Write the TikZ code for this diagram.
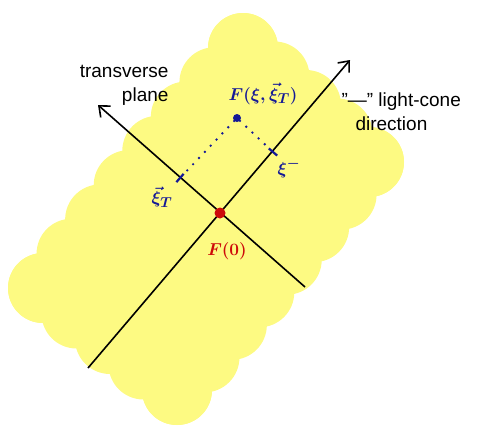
\documentclass[tikz,border=0pt]{standalone}
\usepackage{fontspec}
\setmainfont{Liberation Sans}
\usetikzlibrary{arrows.meta,positioning,calc}
\definecolor{hilite}{RGB}{253,250,130}
\definecolor{qblue}{RGB}{20,25,150}
\definecolor{fred}{RGB}{205,10,10}

\begin{document}
\begin{tikzpicture}[x=1pt, y=-1pt,
        blob/.style={fill=hilite},
        axis/.style={draw=black, line width=1.6pt, -{Straight Barb[length=9pt, width=15pt]}},
        tickmark/.style={fill=qblue, inner sep=0pt, minimum width=2.2pt, minimum height=11pt},
        dotline/.style={draw=qblue, line width=2.6pt, line cap=round, dash pattern=on 0pt off 8.5pt},
        fpoint/.style={circle, fill=qblue, inner sep=0pt, minimum size=8pt},
        reddot/.style={circle, fill=fred, inner sep=0pt, minimum size=11pt},
        note/.style={font=\fontsize{19}{24}\selectfont},
        qlabel/.style={text=qblue, inner sep=1pt, font=\fontsize{19}{22}\selectfont\boldmath}]

        \useasboundingbox (0,0) rectangle (484,429);

        \coordinate (a) at (43,288);
        \coordinate (b) at (243,48);
        \coordinate (c) at (369,162);
        \coordinate (d) at (177,390);
        \fill[blob] (a) -- (b) -- (c) -- (d) -- cycle;
        \foreach \p/\q/\n in {a/b/7, b/c/4, c/d/7, d/a/4}
            \foreach \i in {0,...,\n}
                \fill[blob] ($(\p)!\i/\n!(\q)$) circle (35pt);

        \coordinate (mstart) at (88,368);
        \coordinate (mend) at (350,60);
        \coordinate (tstart) at (305,287);
        \coordinate (tend) at (98,105);
        \draw[axis] (mstart) -- (mend);
        \draw[axis] (tstart) -- (tend);

        \node[reddot] (zero) at (220,213) {};
        \node[fpoint] (fpt) at (237,118) {};
        \node[tickmark, rotate=49.6] (tickm) at (273,152) {};
        \node[tickmark, rotate=-41.3] (tickt) at (180,178) {};

        \node[qlabel] (flabel) at (263,94) {$F(\xi,\vec{\xi}_T)$};
        \node[qlabel] (mlabel) at (289,168) {$\xi^-$};
        \node[qlabel] (tlabel) at (162,197) {$\vec{\xi}_T$};
        \node[text=fred, inner sep=1pt, font=\fontsize{19}{22}\selectfont\boldmath] (zlabel) at (227,251) {$F(0)$};

        \node[note, align=right, anchor=east] (transv) at (172,85) {transverse\\plane};
        \node[note, align=left, anchor=west] (lcone) at (338,112) {"---" light-cone\\\hspace{14pt}direction};

        \draw[dotline] (fpt) -- (tickm);
        \draw[dotline] (fpt) -- (tickt);
    \end{tikzpicture}
\end{document}
